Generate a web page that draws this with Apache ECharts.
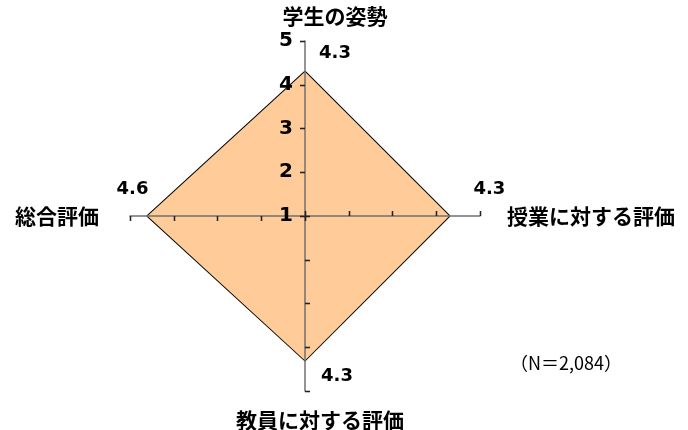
<!DOCTYPE html>
<html>
<head>
<meta charset="utf-8">
<script src="https://cdn.jsdelivr.net/npm/echarts@6/dist/echarts.min.js"></script>
<style>
  html, body { margin: 0; padding: 0; background: #fff; }
  #radarChart { width: 688px; height: 430px; }
</style>
</head>
<body>
<div id="radarChart"></div>
<script>
// data
const indicatorNames = ['学生の姿勢', '総合評価', '教員に対する評価', '授業に対する評価']
const scores = [4.3, 4.6, 4.3, 4.3]
const tickValues = [1, 2, 3, 4, 5]
const sampleNote = '（N＝2,084）'

// per axis styling (top, left, bottom, right)
const nameGaps = [14, 31, 19, 27]
const namePads = [[0, 0, 0, 60], [0, 0, 0, 0], [0, 0, 0, 30], [0, 0, 0, 0]]
const labelPads = [[0, 0, 36, 60], [0, 30, 54, 0], [32, 0, 0, 64], [0, 0, 54, 80]]

const fontJP = '"Noto Sans CJK JP", sans-serif'
const fontNum = '"DejaVu Sans", sans-serif'
const center = [305, 216]
const radius = 175

const minV = tickValues[0]
const maxV = tickValues[tickValues.length - 1]

function buildIndicators (withLabels) {
  return indicatorNames.map((name, i) => {
    const ind = {
      name: name,
      min: minV,
      max: maxV,
      nameGap: nameGaps[i],
      nameMoveOverlap: false,
      nameTextStyle: { padding: namePads[i] }
    }
    if (withLabels && i === 0) {
      ind.axisLabel = { show: true }
    }
    return ind
  })
}

const rich = {}
labelPads.forEach((p, i) => {
  rich['d' + i] = {
    fontFamily: fontNum,
    fontWeight: 'bold',
    fontSize: 18,
    color: '#000',
    padding: p
  }
})

const option = {
  animation: false,
  title: {
    text: sampleNote,
    left: 505,
    top: 349,
    textStyle: { fontFamily: fontJP, fontSize: 18, fontWeight: 'normal', color: '#000' }
  },
  radar: [
    {
      center: center,
      radius: radius,
      startAngle: 90,
      shape: 'polygon',
      splitNumber: tickValues.length - 1,
      z: 3,
      indicator: buildIndicators(true),
      axisName: {
        color: '#000',
        fontFamily: fontJP,
        fontWeight: 'bold',
        fontSize: 21
      },
      axisLine: { show: true, lineStyle: { color: '#707070', width: 1.5 } },
      axisTick: { show: true, length: 5, lineStyle: { color: '#222', width: 1.3 } },
      axisLabel: {
        show: false,
        color: '#000',
        fontFamily: fontNum,
        fontWeight: 'bold',
        fontSize: 20,
        margin: 12
      },
      splitLine: { show: false },
      splitArea: { show: false }
    },
    {
      center: center,
      radius: radius,
      startAngle: 90,
      shape: 'polygon',
      splitNumber: tickValues.length - 1,
      z: 3,
      indicator: buildIndicators(false),
      axisName: { show: false },
      axisLine: { show: false },
      axisTick: { show: true, inside: true, length: 5, lineStyle: { color: '#222', width: 1.3 } },
      axisLabel: { show: false },
      splitLine: { show: false },
      splitArea: { show: false }
    }
  ],
  series: [
    {
      type: 'radar',
      radarIndex: 0,
      z: 2,
      symbol: 'circle',
      symbolSize: 1,
      itemStyle: { color: '#000' },
      lineStyle: { color: '#000', width: 2 },
      areaStyle: { color: '#FFCC99', opacity: 1 },
      label: {
        show: true,
        position: 'inside',
        formatter: function (p) {
          return '{d' + p.dimensionIndex + '|' + Number(p.value).toFixed(1) + '}'
        },
        rich: rich
      },
      data: [{ value: scores }]
    }
  ]
}

const myChart = echarts.init(document.getElementById('radarChart'))
myChart.setOption(option, true)
</script>
</body>
</html>
